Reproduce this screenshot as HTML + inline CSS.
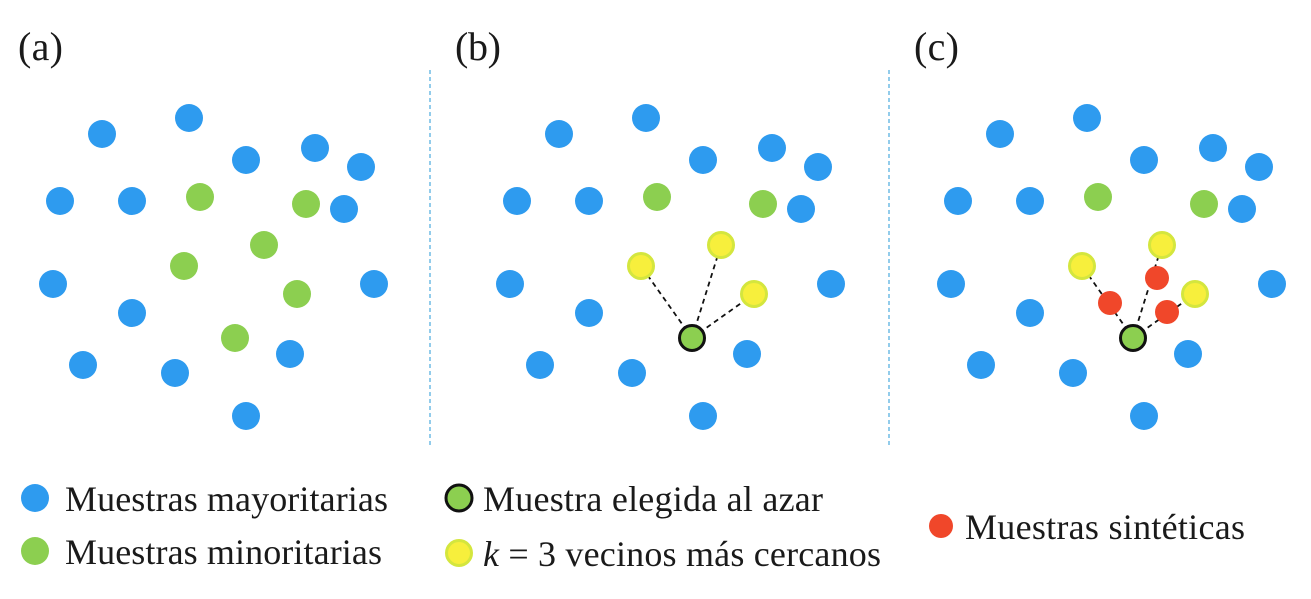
<!DOCTYPE html>
<html><head><meta charset="utf-8"><style>
body{margin:0;background:#fff;width:1311px;height:594px;overflow:hidden}
svg text{font-family:"Liberation Serif",serif;fill:#1a1a1a}
</style></head><body>
<svg id="c" width="1311" height="594">
<text x="18" y="60" font-size="40" textLength="45">(a)</text>
<text x="455" y="60" font-size="40" textLength="46">(b)</text>
<text x="914" y="60" font-size="40" textLength="45">(c)</text>
<line x1="430" y1="70" x2="430" y2="447" stroke="#58b0e0" stroke-width="1.3" stroke-dasharray="4,3"/>
<line x1="889" y1="70" x2="889" y2="447" stroke="#58b0e0" stroke-width="1.3" stroke-dasharray="4,3"/>
<g id="marks"></g>
<circle cx="35" cy="498" r="14" fill="#2e9bef"/>
<text x="65" y="511" font-size="36" textLength="323">Muestras mayoritarias</text>
<circle cx="35" cy="551" r="14" fill="#8ccf50"/>
<text x="65" y="564" font-size="36" textLength="317">Muestras minoritarias</text>
<circle cx="459" cy="498" r="13" fill="#8ccf50" stroke="#111" stroke-width="3"/>
<text x="483" y="511" font-size="36" textLength="340">Muestra elegida al azar</text>
<circle cx="459" cy="553" r="12.5" fill="#f7ef3c" stroke="#d4e63e" stroke-width="3"/>
<text x="483" y="566" font-size="36" textLength="398"><tspan font-style="italic">k</tspan> = 3 vecinos más cercanos</text>
<circle cx="941" cy="526" r="12" fill="#f0472a"/>
<text x="965" y="539" font-size="36" textLength="280">Muestras sintéticas</text>
</svg>
<script>
const majX=[102,189,246,315,361,60,132,344,53,374,132,83,175,290,246];
const majY=[134,118,160,148,167,201,201,209,284,284,313,365,373,354,416];
const minX=[200,306,264,184,297,235];
const minY=[197,204,245,266,294,338];
const offsets=[0,457,898];
const nbrIdx=[2,3,4];
const selIdx=5;
const synX=[1110,1157,1167];
const synY=[303,278,312];
const NS="http://www.w3.org/2000/svg";
const g=document.getElementById('marks');
function mk(t,a){const e=document.createElementNS(NS,t);for(const k in a)e.setAttribute(k,a[k]);g.appendChild(e);return e;}
offsets.forEach((o,p)=>{
  majX.forEach((x,i)=>{const e=mk('circle',{cx:x+o,cy:majY[i],r:14,fill:'#2e9bef'});
    
    });
  if(p>0){nbrIdx.forEach(j=>{const e=mk('line',{x1:minX[selIdx]+o,y1:minY[selIdx],x2:minX[j]+o,y2:minY[j],stroke:'#111','stroke-width':1.8,'stroke-dasharray':'5,4'});
    
    });}
  minX.forEach((x,i)=>{let a;
    if(p===0||(i!==selIdx&&!nbrIdx.includes(i)))a={r:14,fill:'#8ccf50'};
    else if(i===selIdx)a={r:12.5,fill:'#8ccf50',stroke:'#111','stroke-width':3};
    else a={r:12.5,fill:'#f7ef3c',stroke:'#d4e63e','stroke-width':3};
    a.cx=x+o;a.cy=minY[i];const e=mk('circle',a);
    
    });
});
synX.forEach((x,i)=>{const e=mk('circle',{cx:x,cy:synY[i],r:12,fill:'#f0472a'});
  
  });
</script>
</body></html>
